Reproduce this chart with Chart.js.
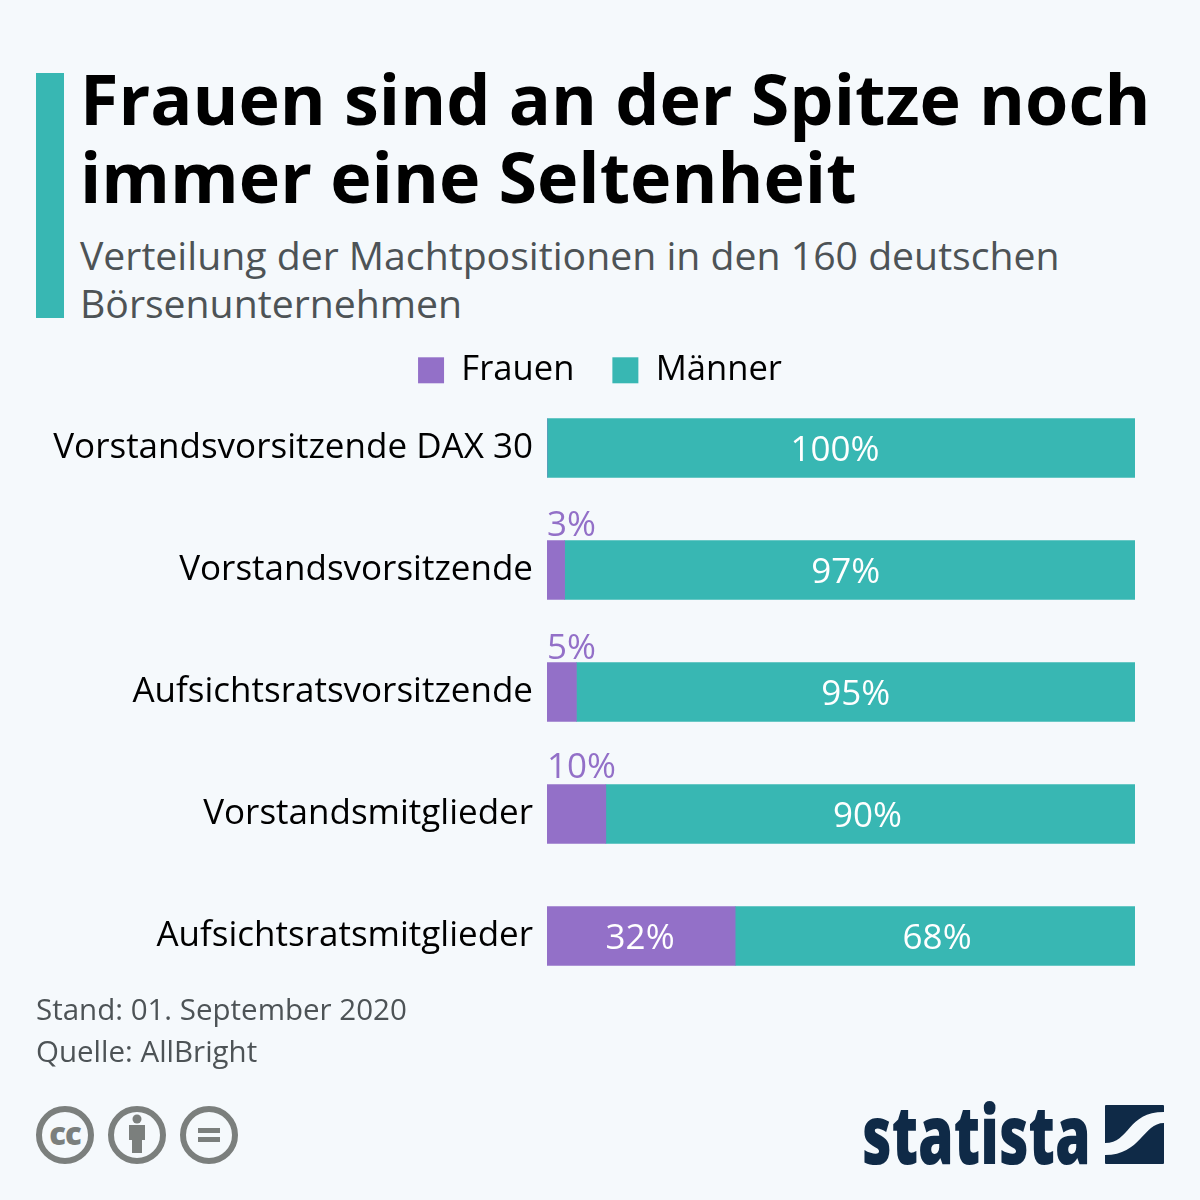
<!DOCTYPE html>
<html>
<head>
<meta charset="utf-8">
<script src="https://cdn.jsdelivr.net/npm/chart.js@4"></script>
<style>
  html, body { margin: 0; padding: 0; background: #f5f9fc; }
  body { width: 1200px; height: 1200px; position: relative; overflow: hidden; font-family: "Open Sans", sans-serif; }
  .abs { position: absolute; white-space: nowrap; }
  #accent { left: 36px; top: 73px; width: 28px; height: 245px; background: #38b7b3; }
  .title { left: 80px; font-size: 70px; font-weight: 700; color: #000; line-height: 78px; }
  .sub { left: 80px; font-size: 39.2px; color: #4d5356; line-height: 48px; }
  .foot { left: 36px; font-size: 29.5px; color: #4d5356; line-height: 42px; }
  #chartBox { left: 0; top: 315px; width: 1200px; height: 717px; }
  .cc { top: 1105px; width: 60px; height: 60px; }
  #logo { left: 862px; top: 1076px; font-size: 82px; font-weight: 800; color: #0f2a47; transform: scaleX(0.70); transform-origin: left top; }
</style>
</head>
<body>
<div class="abs" id="accent"></div>
<div class="abs title" style="top:59px">Frauen sind an der Spitze noch</div>
<div class="abs title" style="top:137px">immer eine Seltenheit</div>
<div class="abs sub" style="top:231px">Verteilung der Machtpositionen in den 160 deutschen</div>
<div class="abs sub" style="top:279px">Börsenunternehmen</div>
<div class="abs" id="chartBox"><canvas id="chart" width="1200" height="717"></canvas></div>
<div class="abs foot" style="top:988px">Stand: 01. September 2020</div>
<div class="abs foot" style="top:1030px">Quelle: AllBright</div>

<svg class="abs cc" style="left:35px" viewBox="0 0 60 60"><circle cx="30" cy="30" r="26" fill="none" stroke="#7b7f7d" stroke-width="6"/><text x="30" y="40" text-anchor="middle" font-family="Open Sans" font-weight="800" font-size="31" letter-spacing="-1" fill="#7b7f7d">cc</text></svg>
<svg class="abs cc" style="left:107px" viewBox="0 0 60 60"><circle cx="30" cy="30" r="26" fill="none" stroke="#7b7f7d" stroke-width="6"/><circle cx="30" cy="14" r="4.5" fill="#7b7f7d"/><path d="M22 20h16v15h-3v13H25V35h-3z" fill="#7b7f7d"/></svg>
<svg class="abs cc" style="left:179px" viewBox="0 0 60 60"><circle cx="30" cy="30" r="26" fill="none" stroke="#7b7f7d" stroke-width="6"/><path d="M19 23h22v5H19zM19 32h22v5H19z" fill="#7b7f7d"/></svg>

<div class="abs" id="logo">statista</div>
<svg class="abs" style="left:1105px;top:1105px" width="59" height="59" viewBox="0 0 59 59"><rect width="59" height="59" rx="1" fill="#0f2a47"/><path d="M0 38C25 38 22 7 59 7V18C38 18 36 50 0 50z" fill="#f5f9fc"/></svg>

<script>
const categories = ['Vorstandsvorsitzende DAX 30', 'Vorstandsvorsitzende', 'Aufsichtsratsvorsitzende', 'Vorstandsmitglieder', 'Aufsichtsratsmitglieder'];
const frauen = [0, 3, 5, 10, 32];
const maenner = [100, 97, 95, 90, 68];
const seriesNames = ['Frauen', 'Männer'];

const purple = '#9370c8';
const teal = '#38b7b3';

// the original's labels are not quite centred, these are just to line them up
const maennerLabelShift = [-6, -4, 0, -3, 2];
const smallLabelLift = [0, 44, 43, 46, 0];

// value labels: white inside the bar, purple above it when the bar is too small
const barLabels = {
  id: 'barLabels',
  beforeInit(chart) {
    // fixed legend height so the bars start where they should
    const fit = chart.legend.fit;
    chart.legend.fit = function () {
      fit.call(this);
      this.height = 72;
    };
  },
  afterLayout(chart) {
    // centre the legend on the page, not on the padded chart
    chart.legend.left = 0;
    chart.legend.right = chart.width;
  },
  afterDatasetsDraw(chart) {
    const ctx = chart.ctx;
    ctx.save();
    ctx.font = '35px "Open Sans"';
    ctx.textBaseline = 'middle';
    chart.data.datasets.forEach((ds, d) => {
      chart.getDatasetMeta(d).data.forEach((bar, i) => {
        const v = ds.data[i];
        if (!v) return;
        const mid = (bar.x + bar.base) / 2;
        if (d === 0 && v < 15) {
          ctx.fillStyle = purple;
          ctx.textAlign = 'left';
          ctx.fillText(v + '%', bar.base, bar.y - smallLabelLift[i]);
        } else {
          ctx.fillStyle = '#fff';
          ctx.textAlign = 'center';
          const shift = d === 1 ? maennerLabelShift[i] : -1;
          ctx.fillText(v + '%', mid + shift, bar.y + 3);
        }
      });
    });
    ctx.restore();
  }
};

new Chart(document.getElementById('chart'), {
  type: 'bar',
  data: {
    labels: categories,
    datasets: [
      { label: seriesNames[0], data: frauen, backgroundColor: purple },
      { label: seriesNames[1], data: maenner, backgroundColor: teal }
    ]
  },
  options: {
    indexAxis: 'y',
    responsive: false,
    animation: false,
    layout: { padding: { left: 0, right: 65, top: 0, bottom: 0 } },
    datasets: { bar: { barThickness: 59 } },
    scales: {
      x: { stacked: true, min: 0, max: 100, display: false },
      y: {
        stacked: true,
        grid: { display: false, drawTicks: false },
        border: { display: false },
        afterFit(axis) { axis.width = 547; },
        ticks: { color: '#000', padding: 14, font: { family: '"Open Sans"', size: 35 } }
      }
    },
    plugins: {
      tooltip: { enabled: false },
      legend: {
        position: 'top',
        labels: { color: '#000', boxWidth: 26, boxHeight: 26, padding: 38, font: { family: '"Open Sans"', size: 34.6 } }
      }
    }
  },
  plugins: [barLabels]
});
</script>
</body>
</html>
